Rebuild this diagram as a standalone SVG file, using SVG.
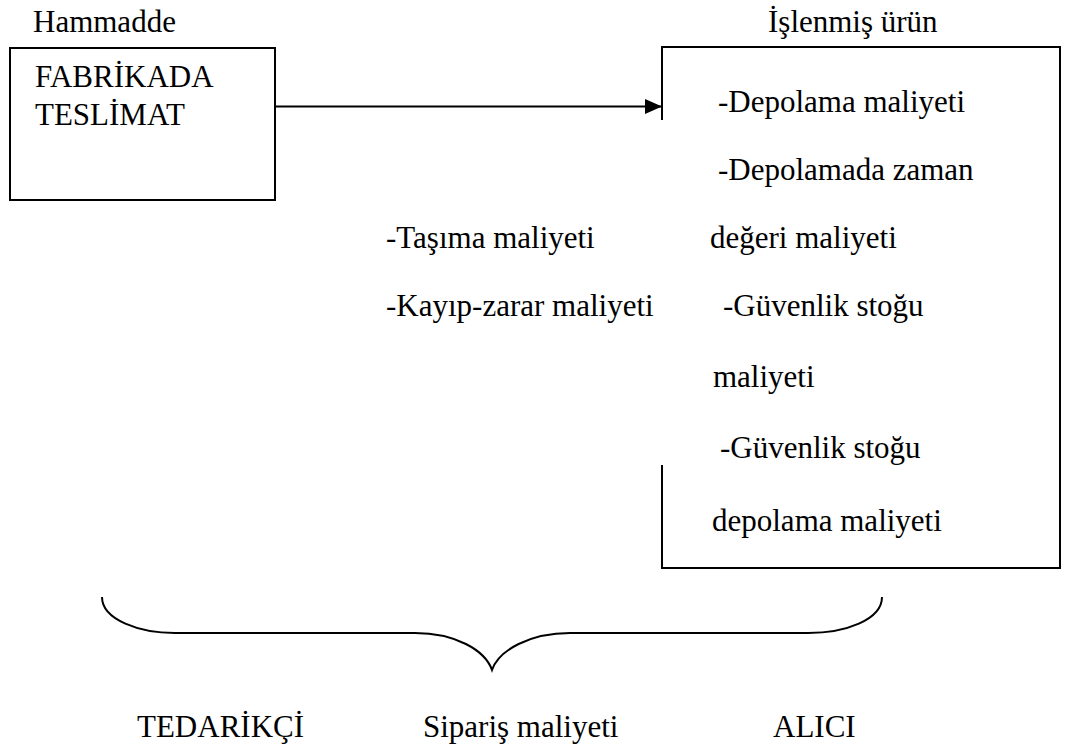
<svg xmlns="http://www.w3.org/2000/svg" width="1068" height="756" viewBox="0 0 1068 756">
<style>
text{font-family:"Liberation Serif","DejaVu Serif",serif;font-size:31px;fill:#000}
.ln{fill:none;stroke:#000;stroke-width:2}
</style>
<defs>
<marker id="ah" markerWidth="17" markerHeight="15" refX="17" refY="7.5" orient="auto" markerUnits="userSpaceOnUse" viewBox="0 0 17 15">
<path d="M0,0 L17,7.5 L0,15 z" fill="#000"/>
</marker>
</defs>
<rect width="1068" height="756" fill="#fff"/>
<g id="supplier">
<text x="33" y="32">Hammadde</text>
<rect class="ln" x="10" y="48" width="265" height="152"/>
<text x="35" y="87">FABRİKADA</text>
<text x="35" y="125">TESLİMAT</text>
</g>
<g id="buyer">
<text x="768" y="32">İşlenmiş ürün</text>
<path class="ln" d="M662,120 L662,47 L1060,47 L1060,568 L662,568 L662,465"/>
<text x="718" y="112">-Depolama maliyeti</text>
<text x="718" y="180">-Depolamada zaman</text>
<text x="710" y="248">değeri maliyeti</text>
<text x="723" y="316">-Güvenlik stoğu</text>
<text x="713" y="387">maliyeti</text>
<text x="720" y="458">-Güvenlik stoğu</text>
<text x="712" y="531">depolama maliyeti</text>
</g>
<g id="transport">
<text x="386" y="248">-Taşıma maliyeti</text>
<text x="386" y="316">-Kayıp-zarar maliyeti</text>
</g>
<g id="connectors">
<line class="ln" x1="275" y1="106.5" x2="662" y2="106.5" marker-end="url(#ah)"/>
<path class="ln" d="M102,597 C102,620 140,633 175,633 L415,633 C455,633 485,650 492,670 C499,650 530,633 570,633 L808,633 C845,633 882,620 882,597"/>
</g>
<g id="labels">
<text x="137" y="737">TEDARİKÇİ</text>
<text x="423" y="737">Sipariş maliyeti</text>
<text x="773" y="737">ALICI</text>
</g>
</svg>
